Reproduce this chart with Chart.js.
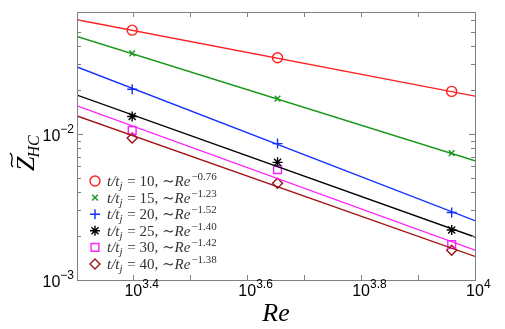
<!DOCTYPE html>
<html>
<head>
<meta charset="utf-8">
<script src="https://cdn.jsdelivr.net/npm/chart.js@4"></script>
<style>
  html, body { margin: 0; padding: 0; background: #fff; }
  #wrap { width: 505px; height: 329px; }
</style>
</head>
<body>
<div id="wrap"><canvas id="zChart"></canvas></div>
<script>
// Reynolds numbers of the runs, and the ends of the fit lines
const reValues = [2500, 4500, 9100];
const fitRe = [2000, 10000];

// t/t_j for each series and the fitted exponent
const times = [10, 15, 20, 25, 30, 40];
const exponents = ['\u22120.76', '\u22121.23', '\u22121.52', '\u22121.40', '\u22121.42', '\u22121.38'];

// measured Z_HC (markers)
const z10 = [0.0515, 0.0333, 0.0196];
const z15 = [0.0357, 0.0175, 0.0074];
const z20 = [0.0203, 0.0086, 0.0029];
const z25 = [0.0132, 0.0064, 0.0022];
const z30 = [0.0106, 0.0057, 0.00175];
const z40 = [0.0094, 0.0046, 0.0016];

// power-law fits evaluated at fitRe
const fit10 = [0.0607, 0.0182];
const fit15 = [0.0466, 0.00656];
const fit20 = [0.0288, 0.00255];
const fit25 = [0.0185, 0.00197];
const fit30 = [0.0156, 0.0016];
const fit40 = [0.0133, 0.00145];

// axis ticks
const xMajor = [3.4, 3.6, 3.8, 4];
const xMinor = [3.4, 3.5, 3.6, 3.7, 3.8, 3.9];
const yMajor = [-3, -2];

const markers = [z10, z15, z20, z25, z30, z40];
const fits = [fit10, fit15, fit20, fit25, fit30, fit40];
const colors = ['#ff2020', '#1a961a', '#1030ff', '#000000', '#ff20ff', '#a01414'];
const styles = [
  { pointStyle: 'circle', radius: 5 },
  { pointStyle: 'crossRot', radius: 4 },
  { pointStyle: 'cross', radius: 5 },
  { pointStyle: 'star', radius: 5 },
  { pointStyle: 'rect', radius: 5.5 },
  { pointStyle: 'rectRot', radius: 5 }
];

const datasets = [];
fits.forEach((f, i) => {
  datasets.push({
    data: fitRe.map((x, k) => ({ x: x, y: f[k] })),
    showLine: true,
    borderColor: colors[i],
    borderWidth: 1.4,
    pointRadius: 0,
    fill: false
  });
});
markers.forEach((m, i) => {
  datasets.push({
    label: 't/t_j = ' + times[i],
    data: reValues.map((x, k) => ({ x: x, y: m[k] })),
    showLine: false,
    borderColor: colors[i],
    backgroundColor: 'rgba(0,0,0,0)',
    pointStyle: styles[i].pointStyle,
    pointRadius: styles[i].radius,
    pointBorderWidth: 1.4
  });
});

// draw a run of text pieces: [text, font, dy, extra gap]
function drawRun(ctx, pieces, x, y) {
  pieces.forEach(p => {
    ctx.font = p[1];
    ctx.fillText(p[0], x, y + (p[2] || 0));
    x += ctx.measureText(p[0]).width + (p[3] || 0);
  });
  return x;
}

const frame = {
  id: 'frame',
  afterDraw(chart) {
    const ctx = chart.ctx;
    const a = chart.chartArea;
    const xs = chart.scales.x, ys = chart.scales.y;
    ctx.save();
    ctx.strokeStyle = '#808080';
    ctx.lineWidth = 1;
    ctx.strokeRect(a.left + 0.5, a.top + 0.5, a.right - a.left, a.bottom - a.top);

    // x ticks (inward, bottom and top)
    ctx.beginPath();
    xMinor.forEach(v => {
      const px = Math.round(xs.getPixelForValue(Math.pow(10, v))) + 0.5;
      ctx.moveTo(px, a.bottom); ctx.lineTo(px, a.bottom - 5);
      ctx.moveTo(px, a.top); ctx.lineTo(px, a.top + 5);
    });
    // y ticks, log minor
    for (let d = -3; d <= -2; d++) {
      for (let m = 1; m <= 9; m++) {
        const v = m * Math.pow(10, d);
        if (v > ys.max) break;
        const py = Math.round(ys.getPixelForValue(v)) + 0.5;
        const len = m === 1 ? 6 : 4;
        ctx.moveTo(a.left, py); ctx.lineTo(a.left + len, py);
        ctx.moveTo(a.right, py); ctx.lineTo(a.right - len, py);
      }
    }
    ctx.stroke();

    // tick labels
    ctx.fillStyle = '#000';
    ctx.textBaseline = 'alphabetic';
    ctx.textAlign = 'left';
    const big = '16px "Liberation Sans", Arial, sans-serif';
    const small = '12px "Liberation Sans", Arial, sans-serif';
    xMajor.forEach(v => {
      const px = xs.getPixelForValue(Math.pow(10, v));
      ctx.font = big;
      const w = ctx.measureText('10').width;
      const sup = v === 4 ? '4' : v.toFixed(1);
      drawRun(ctx, [['10', big, 0], [sup, small, -8]], px - w / 2, 296);
    });
    yMajor.forEach(v => {
      const py = ys.getPixelForValue(Math.pow(10, v));
      ctx.font = small;
      const ws = ctx.measureText('\u2212' + (-v)).width;
      ctx.font = big;
      const wb = ctx.measureText('10').width;
      drawRun(ctx, [['10', big, 0], ['\u2212' + (-v), small, -8]], a.left - 3 - ws - wb, py + 7);
    });

    // x title
    ctx.font = 'italic 26px "Liberation Serif", "DejaVu Serif", serif';
    ctx.textAlign = 'center';
    ctx.fillText('Re', (a.left + a.right) / 2, 321);

    // y title, rotated
    ctx.save();
    ctx.translate(34, 147);
    ctx.rotate(-Math.PI / 2);
    ctx.textAlign = 'left';
    ctx.font = 'italic 26px "Liberation Serif", "DejaVu Serif", serif';
    const zw = ctx.measureText('Z').width;
    const x0 = -24;
    ctx.fillText('Z', x0, 0);
    ctx.font = 'italic 16px "Liberation Serif", "DejaVu Serif", serif';
    ctx.fillText('HC', x0 + zw - 1, 5);
    // tilde over Z
    ctx.beginPath();
    ctx.lineWidth = 1.3;
    ctx.strokeStyle = '#000';
    const tx = x0 + 4, ty = -22;
    ctx.moveTo(tx, ty + 1);
    ctx.bezierCurveTo(tx + 4, ty - 4, tx + 8, ty + 4, tx + 14, ty - 2);
    ctx.stroke();
    ctx.restore();

    // legend
    const serifI = 'italic 15px "Liberation Serif", "DejaVu Serif", serif';
    const serif = '15px "Liberation Serif", "DejaVu Serif", serif';
    const subI = 'italic 11px "Liberation Serif", "DejaVu Serif", serif';
    const supF = '11px "Liberation Serif", "DejaVu Serif", serif';
    ctx.textAlign = 'left';
    times.forEach((t, i) => {
      const cy = 181 + i * 16.6;
      ctx.strokeStyle = colors[i];
      ctx.fillStyle = 'rgba(0,0,0,0)';
      ctx.lineWidth = 1.4;
      Chart.helpers.drawPoint(ctx, {
        pointStyle: styles[i].pointStyle,
        radius: styles[i].radius,
        rotation: 0,
        borderWidth: 1.4
      }, 95, cy);
      ctx.fillStyle = '#333';
      drawRun(ctx, [
        ['t/t', serifI, 0],
        ['j', subI, 3, 1],
        [' = ' + t + ', \u223c', serif, 0],
        ['Re', serifI, 0, 1],
        [exponents[i], supF, -6]
      ], 107, cy + 5);
    });
    ctx.restore();
  }
};

new Chart(document.getElementById('zChart'), {
  type: 'scatter',
  data: { datasets: datasets },
  options: {
    responsive: true,
    maintainAspectRatio: false,
    animation: false,
    layout: { padding: { left: 77, top: 12, right: 30, bottom: 49 } },
    plugins: { legend: { display: false }, tooltip: { enabled: false } },
    scales: {
      x: { type: 'logarithmic', min: 2000, max: 10000, display: false },
      y: { type: 'logarithmic', min: 0.001, max: 0.0686, display: false }
    }
  },
  plugins: [frame]
});
</script>
</body>
</html>
